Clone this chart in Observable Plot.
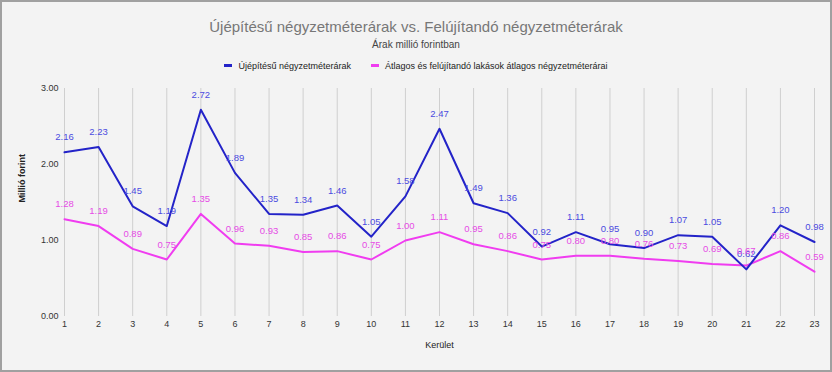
<!DOCTYPE html>
<html>
<head>
<meta charset="utf-8">
<script src="https://cdn.jsdelivr.net/npm/d3@7"></script>
<script src="https://cdn.jsdelivr.net/npm/@observablehq/plot@0.6"></script>
<style>
  html, body { margin: 0; padding: 0; background: #f3f3f3; }
  #wrap { position: relative; width: 832px; height: 372px; background: #f3f3f3; font-family: "Liberation Sans", Arial, sans-serif; overflow: hidden; }
  #wrap svg { position: absolute; left: 0; top: 0; }
  .abs { position: absolute; white-space: nowrap; }
  #title { left: 0; width: 832px; text-align: center; top: 18px; font-size: 15px; line-height: 18px; color: #777; }
  #subtitle { left: 0; width: 832px; text-align: center; top: 39px; font-size: 10px; line-height: 12px; color: #444; }
  #legend { left: 0; width: 832px; top: 61px; line-height: 11px; display: flex; justify-content: center; font-size: 9px; color: #222; }
  .sw { display: inline-block; width: 8px; height: 3px; margin: 0 6px 0 0; vertical-align: middle; position: relative; top: -1px; }
  .item { margin: 0 10px; }
  #frame { position: absolute; left: 0; top: 0; width: 832px; height: 372px; box-sizing: border-box; border: 2px solid #a0a0a0; pointer-events: none; }
</style>
</head>
<body>
<div id="wrap">
  <div id="chart"></div>
  <div class="abs" id="title">Újépítésű négyzetméterárak vs. Felújítandó négyzetméterárak</div>
  <div class="abs" id="subtitle">Árak millió forintban</div>
  <div class="abs" id="legend">
    <span class="item"><span class="sw" style="background:#2323c8"></span>Újépítésű négyzetméterárak</span>
    <span class="item"><span class="sw" style="background:#f03cf0"></span>Átlagos és felújítandó lakások átlagos négyzetméterárai</span>
  </div>
  <div id="frame"></div>
</div>
<script>
const districts = [1,2,3,4,5,6,7,8,9,10,11,12,13,14,15,16,17,18,19,20,21,22,23];
const newPrices = [2.16,2.23,1.45,1.19,2.72,1.89,1.35,1.34,1.46,1.05,1.58,2.47,1.49,1.36,0.92,1.11,0.95,0.90,1.07,1.05,0.62,1.20,0.98];
const avgPrices = [1.28,1.19,0.89,0.75,1.35,0.96,0.93,0.85,0.86,0.75,1.00,1.11,0.95,0.86,0.75,0.80,0.80,0.76,0.73,0.69,0.67,0.86,0.59];
const yTicks = [0,1,2,3];
const seriesNames = ["Újépítésű négyzetméterárak", "Átlagos és felújítandó lakások átlagos négyzetméterárai"];
const xTitle = "Kerület";
const yTitle = "Millió forint";

const blueLine = "#2323c8", blueText = "#4b4be0";
const pinkLine = "#f03cf0", pinkText = "#e64ce6";

const newRows = districts.map((d, i) => ({d, v: newPrices[i]}));
const avgRows = districts.map((d, i) => ({d, v: avgPrices[i]}));
const fmt = d3.format(".2f");

const chart = Plot.plot({
  width: 832,
  height: 372,
  marginLeft: 64,
  marginRight: 18,
  marginTop: 88,
  marginBottom: 56,
  style: {background: "transparent", fontFamily: "'Liberation Sans', Arial, sans-serif", fontSize: "9px", color: "#333"},
  x: {type: "linear", domain: [1, 23]},
  y: {domain: [0, 3]},
  marks: [
    Plot.ruleX(districts, {x: d => d, y1: 0, y2: 3, stroke: "#cfcfcf", strokeWidth: 1}),
    Plot.axisY({ticks: yTicks, tickFormat: fmt, tickSize: 0, tickPadding: 6, label: null, fill: "#333"}),
    Plot.axisX({ticks: districts, tickFormat: d => String(d), tickSize: 0, tickPadding: 4, label: null, fill: "#333"}),
    Plot.text([xTitle], {frameAnchor: "bottom", dy: 31, text: d => d, fontSize: 9, fill: "#222"}),
    Plot.text([yTitle], {frameAnchor: "left", dx: -42, rotate: -90, text: d => d, fontSize: 9, fontWeight: "bold", fill: "#222"}),
    Plot.line(avgRows, {x: "d", y: "v", stroke: pinkLine, strokeWidth: 2}),
    Plot.line(newRows, {x: "d", y: "v", stroke: blueLine, strokeWidth: 2}),
    Plot.text(newRows, {x: "d", y: "v", text: d => fmt(d.v), dy: -15, fill: blueText, fontSize: 9.5}),
    Plot.text(avgRows, {x: "d", y: "v", text: d => fmt(d.v), dy: -15, fill: pinkText, fontSize: 9.5})
  ]
});
document.getElementById("chart").appendChild(chart);
</script>
</body>
</html>
